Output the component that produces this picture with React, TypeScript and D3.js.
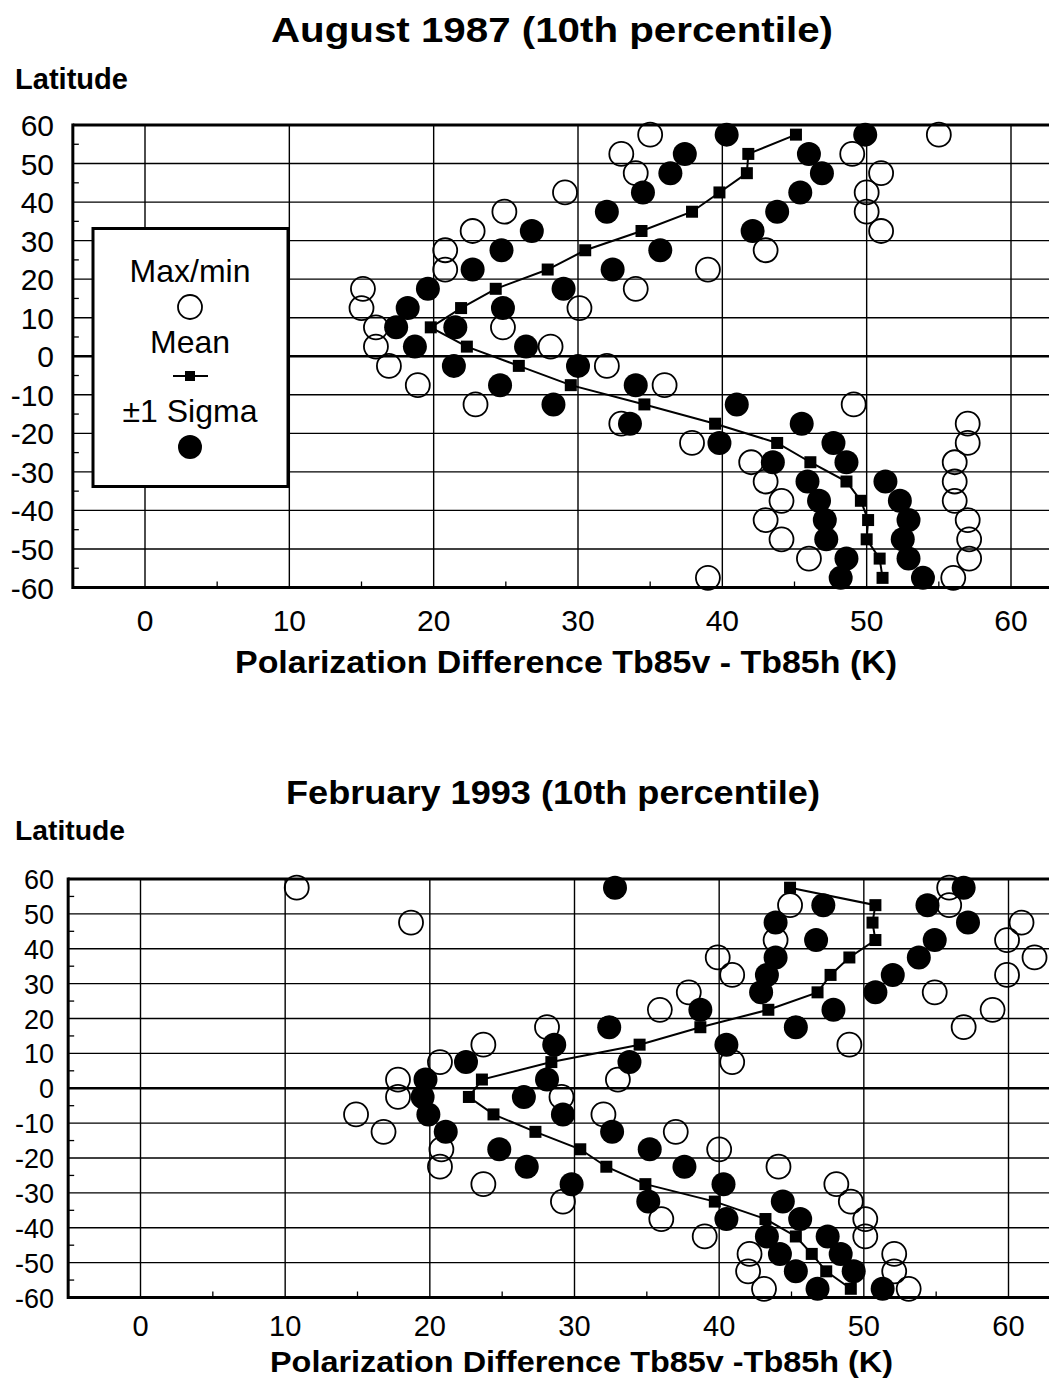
import React from 'react';
import * as d3 from 'd3';

// Latitude bin centres (degrees)
const latitudes = [57.5, 52.5, 47.5, 42.5, 37.5, 32.5, 27.5, 22.5, 17.5, 12.5, 7.5, 2.5,
  -2.5, -7.5, -12.5, -17.5, -22.5, -27.5, -32.5, -37.5, -42.5, -47.5, -52.5, -57.5];

// August 1987 (10th percentile)
const aug87Mean = [45.1, 41.8, 41.7, 39.8, 37.9, 34.4, 30.5, 27.9, 24.3, 21.9, 19.8, 22.3,
  25.9, 29.5, 34.6, 39.5, 43.8, 46.1, 48.6, 49.6, 50.1, 50.0, 50.9, 51.1];
const aug87SigmaLow = [40.3, 37.4, 36.4, 34.5, 32.0, 26.8, 24.7, 22.7, 19.6, 18.2, 17.4, 18.7,
  21.4, 24.6, 28.3, 33.6, 39.8, 43.5, 45.9, 46.7, 47.1, 47.2, 48.6, 48.2];
const aug87SigmaHigh = [49.9, 46.0, 46.9, 45.4, 43.8, 42.1, 35.7, 32.4, 29.0, 24.8, 21.5, 26.4,
  30.0, 34.0, 41.0, 45.5, 47.7, 48.6, 51.3, 52.3, 52.9, 52.5, 52.9, 53.9];
const aug87Min = [35.0, 33.0, 34.0, 29.1, 24.9, 22.7, 20.8, 20.8, 15.1, 15.0, 16.0, 16.0,
  16.9, 18.9, 22.9, 33.0, 37.9, 42.0, 43.0, 44.1, 43.0, 44.1, 46.0, 39.0];
const aug87Max = [55.0, 49.0, 51.0, 50.0, 50.0, 51.0, 43.0, 39.0, 34.0, 30.1, 24.8, 28.1,
  32.0, 36.0, 49.1, 57.0, 57.0, 56.1, 56.1, 56.1, 57.0, 57.1, 57.1, 56.0];

// February 1993 (10th percentile)
const feb93Mean = [44.9, 50.8, 50.6, 50.8, 49.0, 47.7, 46.8, 43.4, 38.7, 34.5, 28.4, 23.6,
  22.7, 24.4, 27.3, 30.4, 32.2, 34.9, 39.7, 43.2, 45.3, 46.4, 47.4, 49.1];
const feb93SigmaLow = [32.8, 47.2, 43.9, 46.7, 43.9, 43.3, 42.9, 38.7, 32.4, 28.6, 22.5, 19.7,
  19.5, 19.9, 21.1, 24.8, 26.7, 29.8, 35.1, 40.5, 43.3, 44.2, 45.3, 46.8];
const feb93SigmaHigh = [56.9, 54.4, 57.2, 54.9, 53.8, 52.0, 50.8, 47.9, 45.3, 40.5, 33.8, 28.1,
  26.5, 29.2, 32.6, 35.2, 37.6, 40.3, 44.4, 45.6, 47.5, 48.4, 49.3, 51.3];
const feb93Min = [10.8, 44.9, 18.7, 43.9, 39.9, 40.9, 37.9, 35.9, 28.1, 23.7, 20.7, 17.8,
  17.8, 14.9, 16.8, 20.8, 20.7, 23.7, 29.2, 36.0, 39.0, 42.1, 42.0, 43.1];
const feb93Max = [55.9, 55.9, 60.9, 59.9, 61.8, 59.9, 54.9, 58.9, 56.9, 49.0, 40.9, 33.0,
  29.1, 32.0, 37.0, 40.0, 44.1, 48.1, 49.1, 50.1, 50.1, 52.1, 52.1, 53.1];

// Axes
const xTicks = [0, 10, 20, 30, 40, 50, 60];
const xMinorTicks = [5, 15, 25, 35, 45, 55];
const yTicks = [60, 50, 40, 30, 20, 10, 0, -10, -20, -30, -40, -50, -60];
const yMinorTicks = [55, 45, 35, 25, 15, 5, -5, -15, -25, -35, -45, -55];

const FONT = '"Liberation Sans", Arial, Helvetica, sans-serif';

type Cfg = {
  x0: number; x60: number; yTop: number; yBottom: number;
  title: string; titleX: number; titleY: number; titleSize: number; titleLen: number;
  latY: number; latSize: number; latLen: number;
  yTickSize: number; yTickDy: number;
  xTickSize: number; xTickY: number;
  xTitle: string; xTitleX: number; xTitleY: number; xTitleSize: number; xTitleLen: number;
  legend: boolean;
};

function Panel({ cfg, mean, sLo, sHi, mn, mx }: { cfg: Cfg; mean: number[]; sLo: number[]; sHi: number[]; mn: number[]; mx: number[] }) {
  const x = d3.scaleLinear().domain([0, 60]).range([cfg.x0, cfg.x60]);
  const y = d3.scaleLinear().domain([-60, 60]).range([cfg.yBottom, cfg.yTop]);
  const left = x(-5);
  const right = 1070;
  const R = 12;
  const SQ = 12;
  const line = d3.line<number>().x((d) => x(d)).y((_, i) => y(latitudes[i]));

  return (
    <g fontFamily={FONT}>
      {/* Titles */}
      <text x={cfg.titleX} y={cfg.titleY} fontSize={cfg.titleSize} fontWeight="bold"
        textLength={cfg.titleLen} lengthAdjust="spacingAndGlyphs">{cfg.title}</text>
      <text x={15} y={cfg.latY} fontSize={cfg.latSize} fontWeight="bold"
        textLength={cfg.latLen} lengthAdjust="spacingAndGlyphs">Latitude</text>

      {/* Horizontal gridlines */}
      {yTicks.filter((v) => v !== 60 && v !== -60).map((v) => (
        <line key={'h' + v} x1={left} x2={right} y1={y(v)} y2={y(v)} stroke="#000"
          strokeWidth={v === 0 ? 2.6 : 1.4} />
      ))}
      {/* Vertical gridlines */}
      {xTicks.map((v) => (
        <line key={'v' + v} x1={x(v)} x2={x(v)} y1={cfg.yTop} y2={cfg.yBottom} stroke="#000" strokeWidth={1.4} />
      ))}
      {/* Minor ticks */}
      {yMinorTicks.map((v) => (
        <line key={'ym' + v} x1={left} x2={left + 6} y1={y(v)} y2={y(v)} stroke="#000" strokeWidth={1.3} />
      ))}
      {xMinorTicks.map((v) => (
        <line key={'xm' + v} x1={x(v)} x2={x(v)} y1={cfg.yBottom} y2={cfg.yBottom - 6} stroke="#000" strokeWidth={1.3} />
      ))}
      {/* Frame */}
      <line x1={left} x2={right} y1={cfg.yTop} y2={cfg.yTop} stroke="#000" strokeWidth={3} />
      <line x1={left} x2={right} y1={cfg.yBottom} y2={cfg.yBottom} stroke="#000" strokeWidth={3} />
      <line x1={left} x2={left} y1={cfg.yTop - 1.5} y2={cfg.yBottom + 1.5} stroke="#000" strokeWidth={3} />

      {/* Tick labels */}
      {yTicks.map((v) => (
        <text key={'yl' + v} x={54} y={y(v) + cfg.yTickDy} fontSize={cfg.yTickSize} textAnchor="end">{v}</text>
      ))}
      {xTicks.map((v) => (
        <text key={'xl' + v} x={x(v)} y={cfg.xTickY} fontSize={cfg.xTickSize} textAnchor="middle">{v}</text>
      ))}
      <text x={cfg.xTitleX} y={cfg.xTitleY} fontSize={cfg.xTitleSize} fontWeight="bold"
        textLength={cfg.xTitleLen} lengthAdjust="spacingAndGlyphs">{cfg.xTitle}</text>

      {/* Legend */}
      {cfg.legend && (
        <g>
          <rect x={93} y={228.5} width={195} height={258} fill="#fff" stroke="#000" strokeWidth={3} />
          <text x={190} y={282} fontSize={32} textAnchor="middle">Max/min</text>
          <circle cx={190} cy={307} r={R} fill="none" stroke="#000" strokeWidth={1.8} />
          <text x={190} y={353} fontSize={32} textAnchor="middle">Mean</text>
          <line x1={173} x2={208} y1={376} y2={376} stroke="#000" strokeWidth={2} />
          <rect x={190 - 5} y={376 - 5} width={10} height={10} fill="#000" />
          <text x={190} y={422} fontSize={32} textAnchor="middle">±1 Sigma</text>
          <circle cx={190} cy={447} r={R} fill="#000" />
        </g>
      )}

      {/* Max / min */}
      {latitudes.map((lat, i) => (
        <g key={'mm' + i}>
          <circle cx={x(mn[i])} cy={y(lat)} r={R} fill="none" stroke="#000" strokeWidth={1.8} />
          <circle cx={x(mx[i])} cy={y(lat)} r={R} fill="none" stroke="#000" strokeWidth={1.8} />
        </g>
      ))}
      {/* +/- 1 sigma */}
      {latitudes.map((lat, i) => (
        <g key={'sg' + i}>
          <circle cx={x(sLo[i])} cy={y(lat)} r={R} fill="#000" />
          <circle cx={x(sHi[i])} cy={y(lat)} r={R} fill="#000" />
        </g>
      ))}
      {/* Mean */}
      <path d={line(mean) || ''} fill="none" stroke="#000" strokeWidth={2} />
      {latitudes.map((lat, i) => (
        <rect key={'m' + i} x={x(mean[i]) - SQ / 2} y={y(lat) - SQ / 2} width={SQ} height={SQ} fill="#000" />
      ))}
    </g>
  );
}

const topCfg: Cfg = {
  x0: 145, x60: 1011, yTop: 125, yBottom: 587.5,
  title: 'August 1987 (10th percentile)', titleX: 271, titleY: 42, titleSize: 35, titleLen: 562,
  latY: 89, latSize: 30, latLen: 113,
  yTickSize: 30, yTickDy: 11,
  xTickSize: 30, xTickY: 631,
  xTitle: 'Polarization Difference Tb85v - Tb85h (K)', xTitleX: 235, xTitleY: 673, xTitleSize: 31, xTitleLen: 662,
  legend: true,
};

const bottomCfg: Cfg = {
  x0: 140.5, x60: 1008.5, yTop: 879, yBottom: 1297.5,
  title: 'February 1993 (10th percentile)', titleX: 286, titleY: 804, titleSize: 34, titleLen: 534,
  latY: 840, latSize: 28, latLen: 110,
  yTickSize: 27, yTickDy: 10,
  xTickSize: 29, xTickY: 1336,
  xTitle: 'Polarization Difference Tb85v -Tb85h (K)', xTitleX: 270, xTitleY: 1372, xTitleSize: 29, xTitleLen: 623,
  legend: false,
};

export default function App() {
  return (
    <svg width={1049} height={1378} style={{ position: 'absolute', left: 0, top: 0, background: '#fff' }}>
      <rect x={0} y={0} width={1049} height={1378} fill="#fff" />
      <Panel cfg={topCfg} mean={aug87Mean} sLo={aug87SigmaLow} sHi={aug87SigmaHigh} mn={aug87Min} mx={aug87Max} />
      <Panel cfg={bottomCfg} mean={feb93Mean} sLo={feb93SigmaLow} sHi={feb93SigmaHigh} mn={feb93Min} mx={feb93Max} />
    </svg>
  );
}
